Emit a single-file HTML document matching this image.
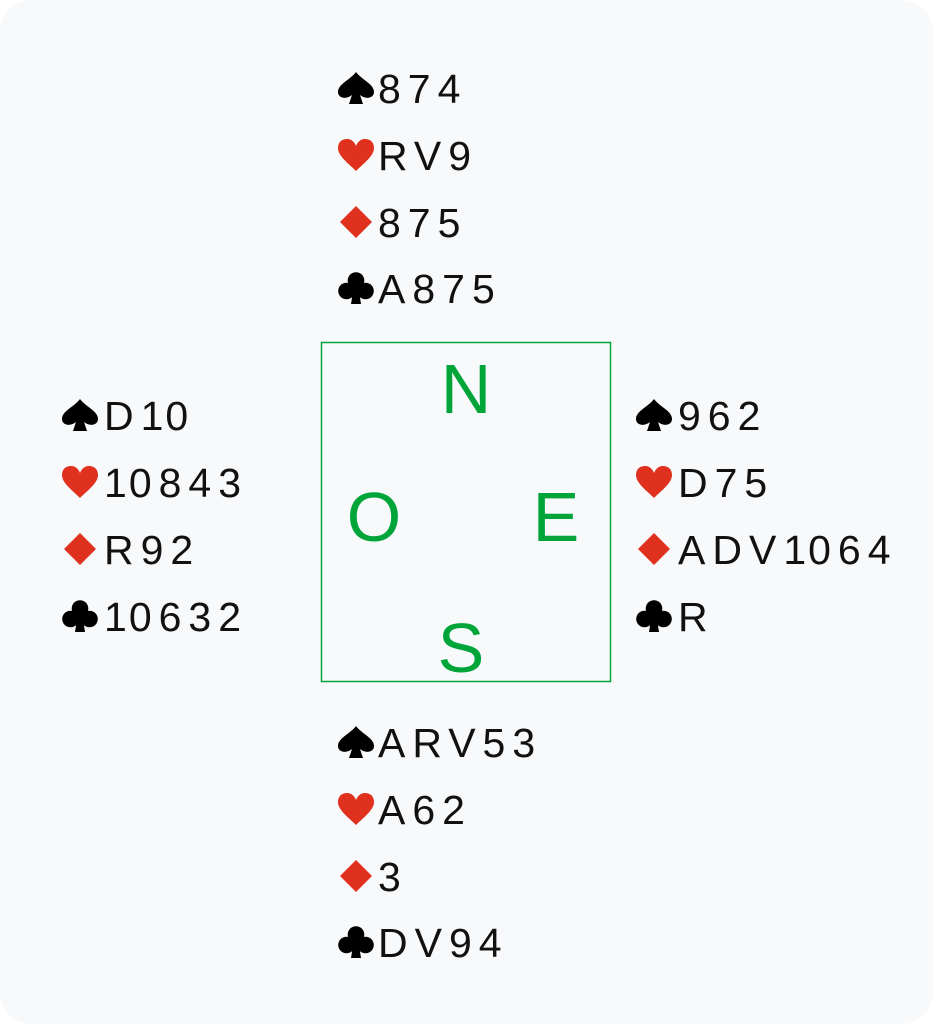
<!DOCTYPE html>
<html><head><meta charset="utf-8"><style>
html,body{margin:0;padding:0;background:#fff;}
svg{display:block;}
.c{font-family:"Liberation Sans",sans-serif;font-size:41px;fill:#111;letter-spacing:7px;}
.k{fill:#000}.r{fill:#e0301e}
.d{font-family:"Liberation Sans",sans-serif;font-size:70px;fill:#00a53a;}
</style></head><body>
<svg width="933" height="1024" viewBox="0 0 933 1024" xmlns="http://www.w3.org/2000/svg">
<defs>
<symbol id="sp" viewBox="0 0 36 32"><path d="M18 0C12 8 0 12 0 20C0 26 8 28 14 23L11 32L25 32L22 23C28 28 36 26 36 20C36 12 24 8 18 0Z"/></symbol>
<symbol id="he" viewBox="0 0 36 32"><path d="M18 32C10 24 0 17 0 9C0 3 4 0 9 0C14 0 17 4 18 7C19 4 22 0 27 0C32 0 36 3 36 9C36 17 26 24 18 32Z"/></symbol>
<symbol id="di" viewBox="0 0 36 32"><path d="M18 0L34 16L18 32L2 16Z"/></symbol>
<symbol id="cl" viewBox="0 0 36 32"><circle cx="18" cy="8.5" r="8.3"/><circle cx="8.5" cy="19" r="8.3"/><circle cx="27.5" cy="19" r="8.3"/><path d="M15.5 16L13 32L23 32L20.5 16Z"/></symbol>
</defs>
<rect x="0" y="0" width="933" height="1024" rx="32" fill="#f8f9fb"/>
<rect x="321.5" y="342.5" width="289" height="339" fill="none" stroke="#00a53a" stroke-width="1.5"/>
<text class="d" x="466" y="413" text-anchor="middle">N</text>
<text class="d" x="374" y="541" text-anchor="middle">O</text>
<text class="d" x="556" y="541" text-anchor="middle">E</text>
<text class="d" x="461" y="672" text-anchor="middle">S</text>

<!-- North -->
<use href="#sp" class="k" x="338" y="72" width="36" height="32"/><text class="c" x="378" y="103">874</text>
<use href="#he" class="r" x="338" y="139" width="36" height="32"/><text class="c" x="378" y="170">RV9</text>
<use href="#di" class="r" x="338" y="206" width="36" height="32"/><text class="c" x="378" y="237">875</text>
<use href="#cl" class="k" x="338" y="272" width="36" height="32"/><text class="c" x="378" y="303">A875</text>

<!-- West -->
<use href="#sp" class="k" x="62" y="399" width="36" height="32"/><text class="c" x="104" y="430">D<tspan letter-spacing="2">10</tspan></text>
<use href="#he" class="r" x="62" y="466" width="36" height="32"/><text class="c" x="104" y="497"><tspan letter-spacing="2">1</tspan>0843</text>
<use href="#di" class="r" x="62" y="533" width="36" height="32"/><text class="c" x="104" y="564">R92</text>
<use href="#cl" class="k" x="62" y="600" width="36" height="32"/><text class="c" x="104" y="631"><tspan letter-spacing="2">1</tspan>0632</text>

<!-- East -->
<use href="#sp" class="k" x="636" y="399" width="36" height="32"/><text class="c" x="678" y="430">962</text>
<use href="#he" class="r" x="636" y="466" width="36" height="32"/><text class="c" x="678" y="497">D75</text>
<use href="#di" class="r" x="636" y="533" width="36" height="32"/><text class="c" x="678" y="564">ADV<tspan letter-spacing="2">1</tspan>064</text>
<use href="#cl" class="k" x="636" y="600" width="36" height="32"/><text class="c" x="678" y="631">R</text>

<!-- South -->
<use href="#sp" class="k" x="338" y="726" width="36" height="32"/><text class="c" x="378" y="757">ARV53</text>
<use href="#he" class="r" x="338" y="793" width="36" height="32"/><text class="c" x="378" y="824">A62</text>
<use href="#di" class="r" x="338" y="860" width="36" height="32"/><text class="c" x="378" y="891">3</text>
<use href="#cl" class="k" x="338" y="926" width="36" height="32"/><text class="c" x="378" y="957">DV94</text>
</svg>
</body></html>
